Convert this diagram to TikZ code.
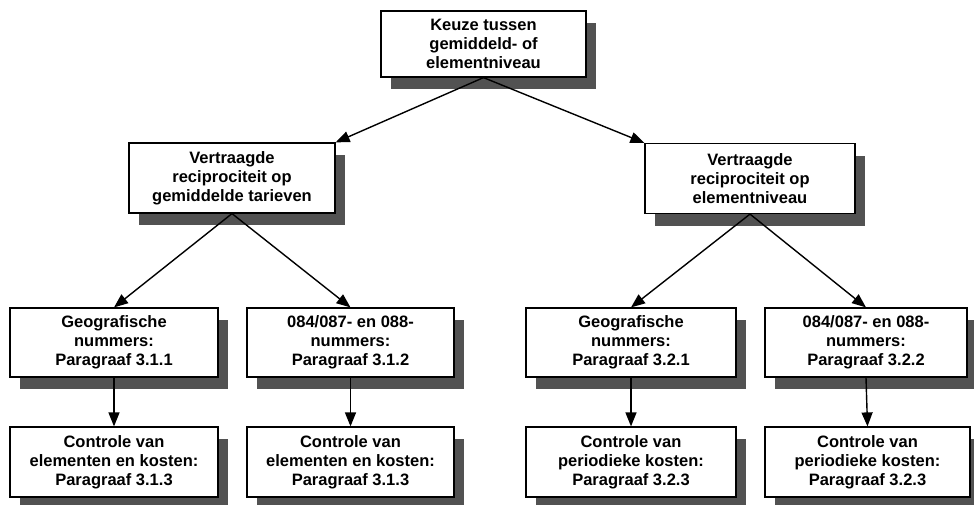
\documentclass[tikz,border=0pt]{standalone}
\usepackage{fontspec}
\setmainfont{Liberation Sans}
\usetikzlibrary{arrows.meta,shadows}
\begin{document}
\begin{tikzpicture}[x=1pt,y=-1pt,
  box/.style={draw=black, line width=1.2pt, fill=white, align=center,
    inner sep=0pt, font=\fontsize{16.5}{19}\selectfont\bfseries,
    drop shadow={shadow xshift=10pt, shadow yshift=-12pt, fill=black!68, opacity=1}},
  conn/.style={line width=1.4pt, -{Triangle[length=14pt,width=11pt]}}]
\useasboundingbox (0,0) rectangle (974,504);
\node[box, minimum width=205pt, minimum height=66pt] (top) at (483.5,44) {Keuze tussen\\gemiddeld- of\\elementniveau};
\node[box, minimum width=206pt, minimum height=70pt] (gl) at (232,178) {Vertraagde\\reciprociteit op\\gemiddelde tarieven};
\node[box, minimum width=210pt, minimum height=70pt] (gr) at (750,178.5) {Vertraagde\\reciprociteit op\\elementniveau};
\node[box, minimum width=208pt, minimum height=69pt] (b1) at (114,342.5) {Geografische\\nummers:\\Paragraaf 3.1.1};
\node[box, minimum width=207pt, minimum height=69pt] (b2) at (350.5,342.5) {084/087- en 088-\\nummers:\\Paragraaf 3.1.2};
\node[box, minimum width=210pt, minimum height=69pt] (b3) at (631,342.5) {Geografische\\nummers:\\Paragraaf 3.2.1};
\node[box, minimum width=202pt, minimum height=69pt] (b4) at (866,342.5) {084/087- en 088-\\nummers:\\Paragraaf 3.2.2};
\node[box, minimum width=208pt, minimum height=70pt] (c1) at (114,462) {Controle van\\elementen en kosten:\\Paragraaf 3.1.3};
\node[box, minimum width=207pt, minimum height=70pt] (c2) at (350.5,462) {Controle van\\elementen en kosten:\\Paragraaf 3.1.3};
\node[box, minimum width=210pt, minimum height=70pt] (c3) at (631,462) {Controle van\\periodieke kosten:\\Paragraaf 3.2.3};
\node[box, minimum width=205pt, minimum height=70pt] (c4) at (867.5,462) {Controle van\\periodieke kosten:\\Paragraaf 3.2.3};
\draw[conn] (top.south) -- (gl.north east);
\draw[conn] (top.south) -- (gr.north west);
\draw[conn] (gl.south) -- (b1.north);
\draw[conn] (gl.south) -- (b2.north);
\draw[conn] (gr.south) -- (b3.north);
\draw[conn] (gr.south) -- (b4.north);
\draw[conn] (b1.south) -- (c1.north);
\draw[conn] (b2.south) -- (c2.north);
\draw[conn] (b3.south) -- (c3.north);
\draw[conn] (b4.south) -- (c4.north);
\end{tikzpicture}
\end{document}
